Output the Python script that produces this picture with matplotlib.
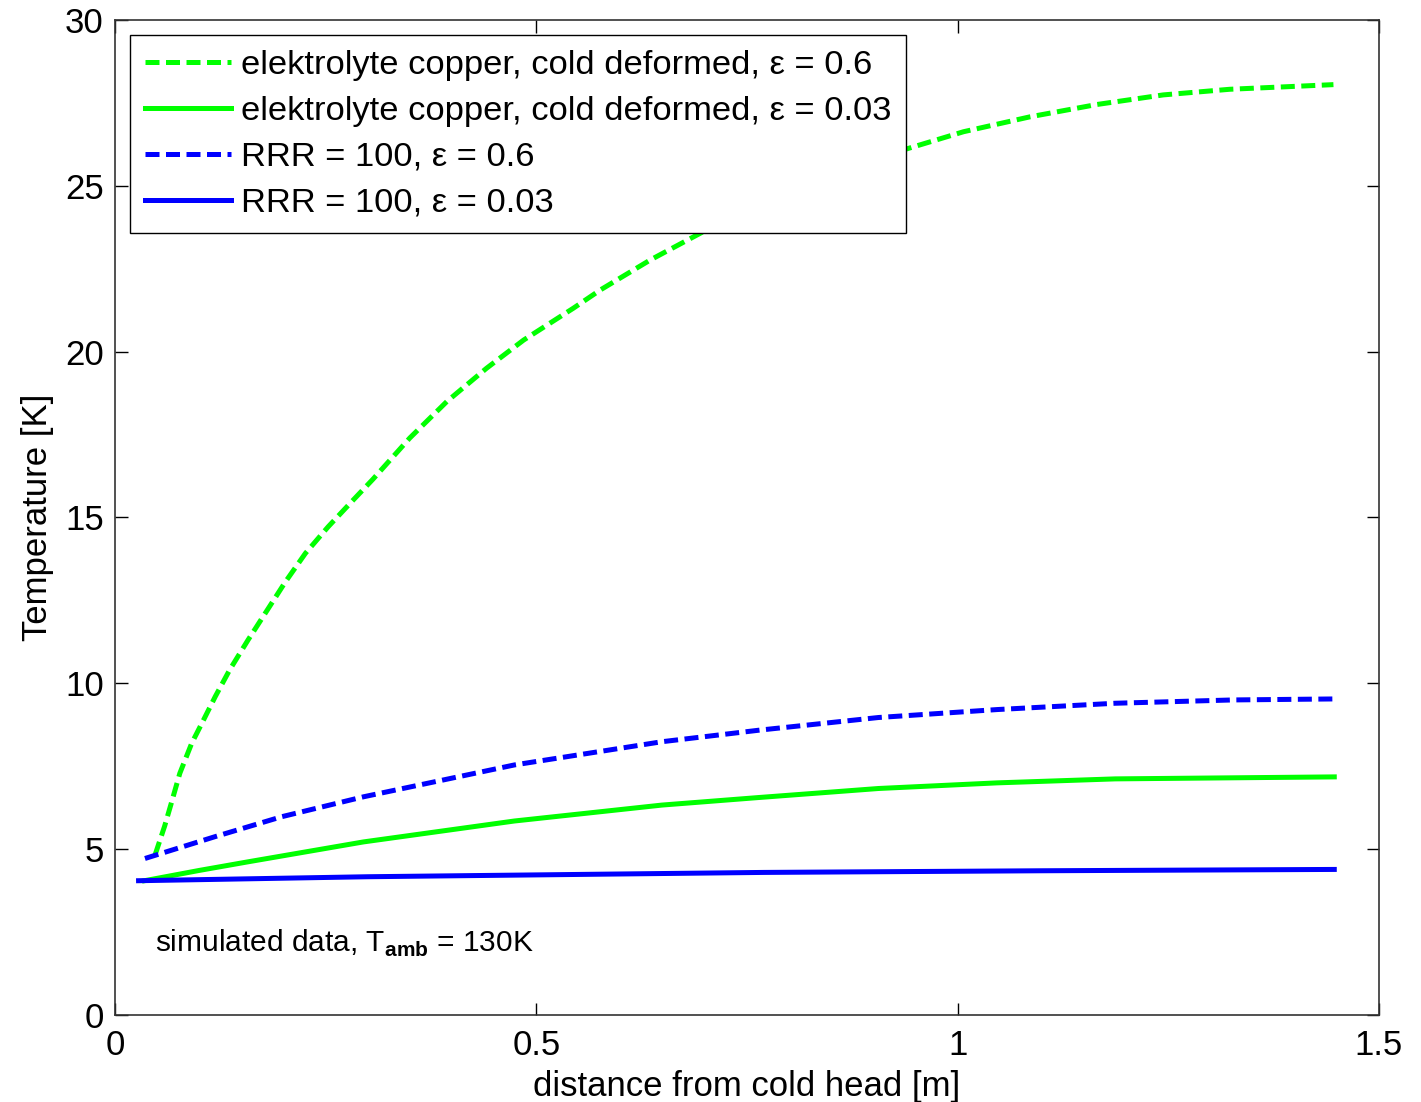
import numpy as np
import matplotlib as mpl
import matplotlib.pyplot as plt

mpl.rc('font', family=['Liberation Sans', 'DejaVu Sans'], size=25)
mpl.rc('mathtext', fontset='custom', rm='Liberation Sans', bf='Liberation Sans:bold')

# values
x_cu06 = [0.0475, 0.059, 0.067, 0.077, 0.091, 0.105, 0.119, 0.136, 0.158, 0.178,
          0.202, 0.226, 0.253, 0.281, 0.306, 0.350, 0.394, 0.441, 0.485, 0.544,
          0.576, 0.635, 0.702, 0.938, 1.007, 1.086, 1.165, 1.244, 1.323, 1.446]
t_cu06 = [4.82, 5.70, 6.40, 7.29, 8.19, 8.89, 9.60, 10.40, 11.31, 12.10,
          13.05, 13.92, 14.72, 15.48, 16.15, 17.40, 18.50, 19.50, 20.35, 21.31,
          21.86, 22.76, 23.67, 26.10, 26.63, 27.08, 27.45, 27.74, 27.91, 28.05]

x_cu003 = [0.035, 0.10, 0.158, 0.295, 0.474, 0.649, 0.765, 0.906, 1.047, 1.187, 1.447]
t_cu003 = [4.05, 4.36, 4.62, 5.22, 5.85, 6.33, 6.56, 6.83, 7.00, 7.12, 7.18]

x_rrr06 = [0.0356, 0.119, 0.198, 0.295, 0.474, 0.649, 0.765, 0.906, 1.047,
           1.187, 1.327, 1.447]
t_rrr06 = [4.72, 5.38, 5.98, 6.58, 7.54, 8.24, 8.59, 8.97, 9.21,
           9.40, 9.50, 9.53]

x_rrr003 = [0.028, 0.3, 0.77, 1.1, 1.447]
t_rrr003 = [4.05, 4.17, 4.30, 4.35, 4.39]

labels = ["elektrolyte copper, cold deformed, \u03b5 = 0.6",
          "elektrolyte copper, cold deformed, \u03b5 = 0.03",
          "RRR = 100, \u03b5 = 0.6",
          "RRR = 100, \u03b5 = 0.03"]

green = "#00ff00"
blue = "#0000ff"
lw = 3.6
dash = (2.8, 1.3)

fig = plt.figure(figsize=(14.21, 11.02), dpi=100)
ax = fig.add_axes([0.0809, 0.0789, 0.8895, 0.9030])

ax.plot(x_cu06, t_cu06, color=green, lw=lw, ls="--", dashes=dash, label=labels[0])
ax.plot(x_cu003, t_cu003, color=green, lw=lw, label=labels[1])
ax.plot(x_rrr06, t_rrr06, color=blue, lw=lw, ls="--", dashes=dash, label=labels[2])
ax.plot(x_rrr003, t_rrr003, color=blue, lw=lw, label=labels[3])

ax.set_xlim(0, 1.5)
ax.set_ylim(0, 30)
ax.set_xticks([0, 0.5, 1, 1.5])
ax.set_xticklabels(["0", "0.5", "1", "1.5"])
ax.set_yticks(range(0, 31, 5))
ax.tick_params(direction="in", top=True, right=True, length=9, width=1, pad=8)
ax.tick_params(axis="x", pad=10)
for s in ax.spines.values():
    s.set_linewidth(1.2)
    s.set_color("#333333")

ax.set_xlabel("distance from cold head [m]", labelpad=6)
ax.set_ylabel("Temperature [K]", labelpad=8)

ax.text(0.048, 2.17, r"simulated data, T$_{\mathbf{amb}}$ = 130K", fontsize=21.5,
        va="center", ha="left")

leg = ax.legend(loc="upper left", fancybox=False, framealpha=1, edgecolor="black",
                handlelength=2.5, handletextpad=0.29, labelspacing=0.43,
                borderaxespad=0.45, borderpad=0.42, fontsize=24.8)
leg.get_frame().set_linewidth(1.0)

fig.savefig("out.png", dpi=100, facecolor="w")
